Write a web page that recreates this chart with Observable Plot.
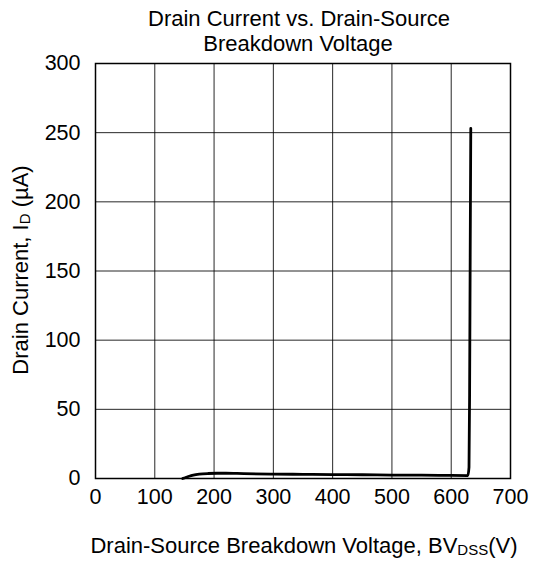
<!DOCTYPE html>
<html><head><meta charset="utf-8">
<script src="https://cdn.jsdelivr.net/npm/d3@7"></script>
<script src="https://cdn.jsdelivr.net/npm/@observablehq/plot@0.6"></script>
<style>body{margin:0;background:#fff}</style>
</head><body><div id="chart"></div>
<script>
const voltage = [147, 152, 158, 165, 175, 190, 205, 220, 250, 300, 350, 400, 450, 500, 550, 600, 628, 630, 631, 632, 633];
const current = [0, 0.7, 1.6, 2.4, 3.1, 3.6, 3.8, 3.8, 3.5, 3.2, 3.0, 2.8, 2.7, 2.5, 2.4, 2.2, 2.1, 8, 60, 160, 253];
const xTicks = [0, 100, 200, 300, 400, 500, 600, 700];
const yTicks = [0, 50, 100, 150, 200, 250, 300];

const data = voltage.map((v, i) => ({v, c: current[i]}));
const font = "Liberation Sans, Arial, sans-serif";

const plot = Plot.plot({
  width: 552, height: 561,
  marginTop: 63, marginBottom: 83, marginLeft: 95, marginRight: 42,
  style: {fontFamily: font, fontSize: "21.5px", color: "#000", background: "#fff"},
  x: {domain: [0, 700], ticks: xTicks, label: null, tickSize: 0, tickPadding: 10},
  y: {domain: [0, 300], ticks: yTicks, label: null, tickSize: 0, tickPadding: 15},
  marks: [
    Plot.gridX(xTicks, {stroke: "#000", strokeOpacity: 0.85, strokeWidth: 1}),
    Plot.gridY(yTicks, {stroke: "#000", strokeOpacity: 0.85, strokeWidth: 1}),
    Plot.frame({stroke: "#000", strokeWidth: 1.5}),
    Plot.line(data, {x: "v", y: "c", stroke: "#000", strokeWidth: 2.8, curve: "monotone-x"})
  ]
});
document.getElementById("chart").append(plot);

const svg = d3.select(plot);
const t = svg.append("g").attr("font-family", font).attr("font-size", 22).attr("fill", "#000");
t.append("text").attr("x", 299).attr("y", 26).attr("text-anchor", "middle").text("Drain Current vs. Drain-Source");
t.append("text").attr("x", 298).attr("y", 51).attr("text-anchor", "middle").text("Breakdown Voltage");
const xl = t.append("text").attr("x", 304).attr("y", 553).attr("text-anchor", "middle");
xl.append("tspan").text("Drain-Source Breakdown Voltage, BV");
xl.append("tspan").attr("font-size", 15).attr("dy", 2).text("DSS");
xl.append("tspan").attr("dy", -2).text("(V)");
const yl = t.append("text").attr("transform", "translate(28,270) rotate(-90)").attr("text-anchor", "middle");
yl.append("tspan").text("Drain Current, I");
yl.append("tspan").attr("font-size", 15).attr("dy", 2).text("D");
yl.append("tspan").attr("dy", -2).text(" (µA)");
</script></body></html>
